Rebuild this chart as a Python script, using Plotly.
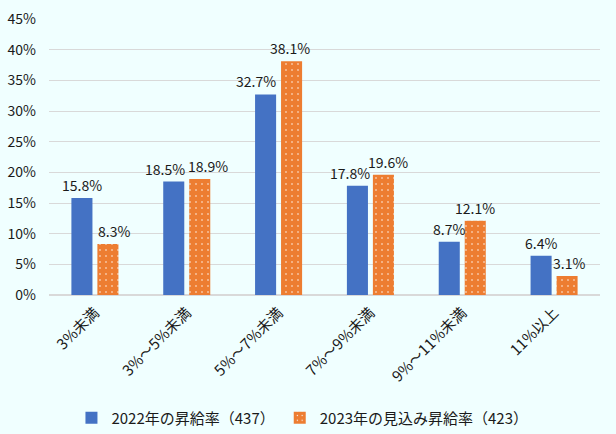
import plotly.graph_objects as go

categories = ["3%未満", "3%～5%未満", "5%～7%未満", "7%～9%未満", "9%～11%未満", "11%以上"]
series_2022_name = "2022年の昇給率（437）"
series_2023_name = "2023年の見込み昇給率（423）"
values_2022 = [15.8, 18.5, 32.7, 17.8, 8.7, 6.4]
values_2023 = [8.3, 18.9, 38.1, 19.6, 12.1, 3.1]
y_ticks = [0, 5, 10, 15, 20, 25, 30, 35, 40, 45]
y_tick_labels = [f"{t}%" for t in y_ticks]

# label nudges (pixels) so that neighbouring value labels do not collide
nudge_2022 = [0, -9, -10, -7, 0, 0]
nudge_2023 = [6, 8, -2, 5, 0, 2]

FONT = "Noto Sans CJK JP, Noto Sans, sans-serif"
TXT = "#1a1a1a"
BG = "#F0FFFF"
BAR_OFFSET = 13  # half of one bar slot, in pixels

fig = go.Figure()
fig.add_trace(go.Bar(
    x=categories, y=values_2022, name=series_2022_name,
    marker=dict(color="#4472C4", line=dict(width=0)),
))
fig.add_trace(go.Bar(
    x=categories, y=values_2023, name=series_2023_name,
    marker=dict(color="#ED7D31", line=dict(width=0),
                pattern=dict(shape=".", fgcolor="white", bgcolor="#ED7D31",
                             size=6, solidity=0.05, fillmode="replace")),
))

for cat, v, n in zip(categories, values_2022, nudge_2022):
    fig.add_annotation(x=cat, y=v, xref="x", yref="y", text=f"{v:.1f}%",
                       showarrow=False, yanchor="bottom", yshift=1,
                       xshift=-BAR_OFFSET + n,
                       font=dict(size=14, color=TXT, family=FONT))
for cat, v, n in zip(categories, values_2023, nudge_2023):
    fig.add_annotation(x=cat, y=v, xref="x", yref="y", text=f"{v:.1f}%",
                       showarrow=False, yanchor="bottom", yshift=1,
                       xshift=BAR_OFFSET + n,
                       font=dict(size=14, color=TXT, family=FONT))

fig.update_layout(
    width=616, height=434,
    margin=dict(l=49, r=16, t=19, b=139, autoexpand=False),
    paper_bgcolor=BG, plot_bgcolor=BG,
    font=dict(family=FONT, size=13, color=TXT),
    barmode="group", bargap=0.434, bargroupgap=0.19,
    showlegend=True,
    legend=dict(orientation="h", x=0.46, xanchor="center",
                y=-0.446, yanchor="middle",
                font=dict(size=15, color=TXT, family=FONT), bgcolor="rgba(0,0,0,0)",
                itemwidth=30, traceorder="normal"),
)
fig.update_xaxes(tickangle=-45, showline=False, showgrid=False, ticks="", automargin=False,
                 ticklabelstandoff=5,
                 tickfont=dict(size=15, color=TXT, family=FONT))
fig.update_yaxes(range=[0, 45], tickmode="array", tickvals=y_ticks, ticktext=y_tick_labels,
                 showgrid=True, automargin=False, ticklabelstandoff=12,
                 gridcolor="#D9D9D9", gridwidth=1, zeroline=True, zerolinecolor="#D9D9D9",
                 showline=False, ticks="", tickfont=dict(size=14, color=TXT, family=FONT))

fig.write_html(
    "out.html",
    config={"displayModeBar": False},
    post_script="document.body.style.margin='0';document.body.style.padding='0';"
                "document.body.style.background='#F0FFFF';"
                "document.documentElement.style.overflow='hidden';",
)
